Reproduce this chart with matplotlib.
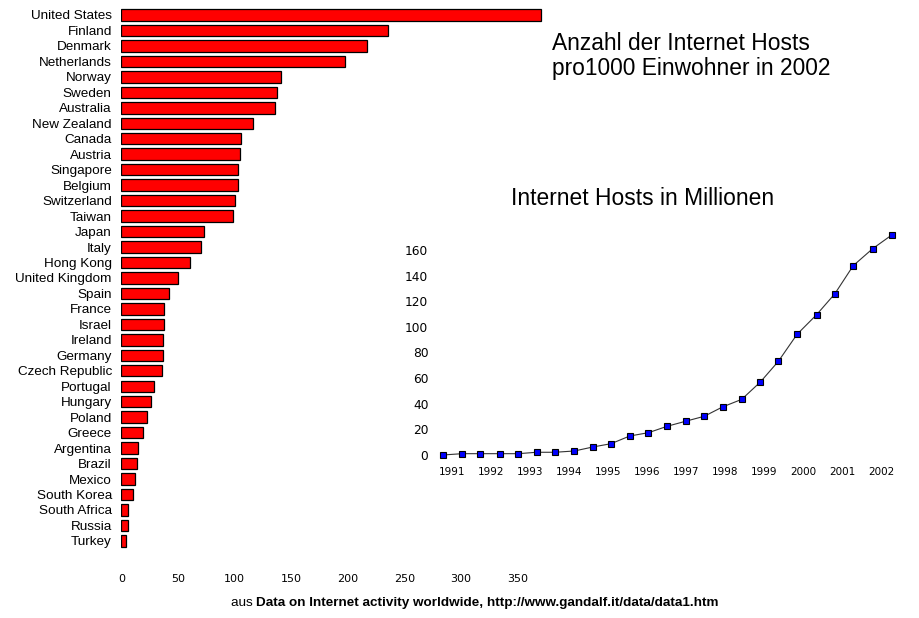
import matplotlib.pyplot as plt

countries = [
    "United States", "Finland", "Denmark", "Netherlands", "Norway", "Sweden",
    "Australia", "New Zealand", "Canada", "Austria", "Singapore", "Belgium",
    "Switzerland", "Taiwan", "Japan", "Italy", "Hong Kong", "United Kingdom",
    "Spain", "France", "Israel", "Ireland", "Germany", "Czech Republic",
    "Portugal", "Hungary", "Poland", "Greece", "Argentina", "Brazil", "Mexico",
    "South Korea", "South Africa", "Russia", "Turkey",
]
hosts_per_1000 = [
    371, 235.9, 216.6, 197.4, 141.3, 137.2, 135.9, 116.4, 105.6, 104.4, 103.1,
    103.1, 100.3, 98.1, 73.2, 70.0, 60.2, 49.5, 41.9, 37.5, 37.5, 36.6, 36.6,
    35.6, 29.0, 25.9, 22.4, 19.2, 14.8, 13.9, 11.7, 10.4, 6.0, 6.0, 4.1,
]
bar_ticks = [0, 50, 100, 150, 200, 250, 300, 350]

# dates of the host counts (decimal years) and hosts in millions
dates = [
    1990.77, 1991.25, 1991.72, 1992.22, 1992.69, 1993.16, 1993.63, 1994.13,
    1994.60, 1995.07, 1995.55, 1996.03, 1996.51, 1996.98, 1997.46, 1997.93,
    1998.42, 1998.90, 1999.36, 1999.84, 2000.34, 2000.81, 2001.28, 2001.78,
    2002.28,
]
hosts_millions = [
    0, 1.0, 1.0, 1.0, 1.0, 2.1, 2.1, 3.1, 6.2, 8.8, 14.8, 17.4, 22.4, 26.3,
    30.2, 37.5, 43.4, 57.0, 73.1, 94.2, 109.5, 125.9, 147.8, 161.1, 172.0,
]
year_ticks = list(range(1991, 2003))
host_ticks = [0, 20, 40, 60, 80, 100, 120, 140, 160]

W, H = 919, 618
fig = plt.figure(figsize=(W / 100, H / 100), dpi=100)

# bar chart: hosts per 1000 inhabitants
ax = fig.add_axes([0.1322, 0.0809, 0.468, 0.9099])
ypos = list(range(len(countries)))
ax.barh(ypos, hosts_per_1000, height=0.74, color="#ff0000",
        edgecolor="black", linewidth=0.9)
ax.set_yticks(ypos)
ax.set_yticklabels(countries, family="Liberation Sans", fontsize=9.7)
ax.set_xticks(bar_ticks)
ax.set_xticklabels([str(t) for t in bar_ticks], family="DejaVu Sans", fontsize=8)
ax.set_xlim(0, 380)
ax.set_ylim(35.75, -0.6)
ax.tick_params(axis="both", length=0)
ax.tick_params(axis="y", pad=7)
ax.tick_params(axis="x", pad=4)
for s in ax.spines.values():
    s.set_visible(False)
ax.patch.set_alpha(0)

# line chart: internet hosts in millions
ax2 = fig.add_axes([0.4752, 0.2576, 0.505, 0.3689])
ax2.plot(dates, hosts_millions, color="#333333", linewidth=0.8,
         marker="s", markersize=5, markerfacecolor="#0000ff",
         markeredgecolor="black", markeredgewidth=0.8)
ax2.set_xticks(year_ticks)
ax2.set_xticklabels([str(y) for y in year_ticks], family="DejaVu Sans", fontsize=7.5)
ax2.set_yticks(host_ticks)
ax2.set_yticklabels([str(t) for t in host_ticks], family="DejaVu Sans", fontsize=8.8)
ax2.set_xlim(1990.6, 2002.5)
ax2.set_ylim(-3, 175)
ax2.tick_params(axis="both", length=0)
ax2.tick_params(axis="y", pad=6)
ax2.tick_params(axis="x", pad=6)
for s in ax2.spines.values():
    s.set_visible(False)
ax2.patch.set_alpha(0)

fig.text(643 / W, 1 - 205 / H, "Internet Hosts in Millionen",
         ha="center", va="baseline", family="Liberation Sans", fontsize=16.4)
fig.text(552 / W, 1 - 50 / H, "Anzahl der Internet Hosts",
         ha="left", va="baseline", family="Liberation Sans", fontsize=16.4)
fig.text(552 / W, 1 - 75 / H, "pro1000 Einwohner in 2002",
         ha="left", va="baseline", family="Liberation Sans", fontsize=16.4)

t = fig.text(231 / W, 1 - 603 / H, "aus ", ha="left", va="center",
             family="Liberation Sans", fontsize=9.7)
fig.canvas.draw()
bb = t.get_window_extent()
fig.text(bb.x1 / W, 1 - 603 / H,
         "Data on Internet activity worldwide, http://www.gandalf.it/data/data1.htm",
         ha="left", va="center", family="Liberation Sans",
         fontsize=9.7, fontweight="bold")

fig.savefig("out.png", dpi=100)
